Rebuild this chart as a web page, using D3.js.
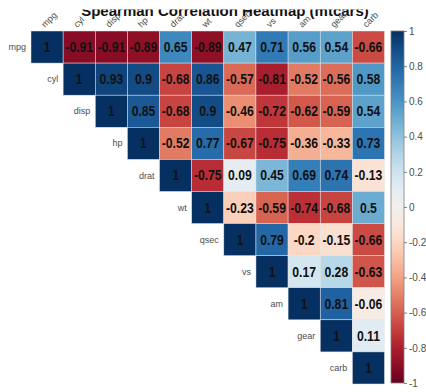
<!DOCTYPE html>
<html>
<head>
<meta charset="utf-8">
<script src="https://cdn.jsdelivr.net/npm/d3@7"></script>
<style>
  html, body { margin: 0; padding: 0; background: #fff; }
  svg { display: block; font-family: "Liberation Sans", Arial, sans-serif; }
</style>
</head>
<body>
<svg id="chart" width="426" height="392"></svg>
<script>
// Variables of the mtcars data set, in display order
const variables = ["mpg", "cyl", "disp", "hp", "drat", "wt", "qsec", "vs", "am", "gear", "carb"];

// Upper triangle of the Spearman correlation matrix, one row per variable,
// starting at the diagonal
const rowMpg  = [1, -0.91, -0.91, -0.89, 0.65, -0.89, 0.47, 0.71, 0.56, 0.54, -0.66];
const rowCyl  = [1, 0.93, 0.9, -0.68, 0.86, -0.57, -0.81, -0.52, -0.56, 0.58];
const rowDisp = [1, 0.85, -0.68, 0.9, -0.46, -0.72, -0.62, -0.59, 0.54];
const rowHp   = [1, -0.52, 0.77, -0.67, -0.75, -0.36, -0.33, 0.73];
const rowDrat = [1, -0.75, 0.09, 0.45, 0.69, 0.74, -0.13];
const rowWt   = [1, -0.23, -0.59, -0.74, -0.68, 0.5];
const rowQsec = [1, 0.79, -0.2, -0.15, -0.66];
const rowVs   = [1, 0.17, 0.28, -0.63];
const rowAm   = [1, 0.81, -0.06];
const rowGear = [1, 0.11];
const rowCarb = [1];
const upperRows = [rowMpg, rowCyl, rowDisp, rowHp, rowDrat, rowWt, rowQsec, rowVs, rowAm, rowGear, rowCarb];

// Colour bar tick values
const legendTicks = [1, 0.8, 0.6, 0.4, 0.2, 0, -0.2, -0.4, -0.6, -0.8, -1];

const titleText = "Spearman Correlation Heatmap (mtcars)";

// Flatten into cells
const cells = [];
upperRows.forEach((row, i) => {
  row.forEach((v, k) => {
    cells.push({ row: variables[i], col: variables[i + k], value: v });
  });
});

const svg = d3.select("#chart");

const x = d3.scaleBand().domain(variables).range([31, 384.5]).padding(0);
const y = d3.scaleBand().domain(variables).range([31, 384]).padding(0);
const color = d3.scaleSequential(d3.interpolateRdBu).domain([-1, 1]);

// Title (top edge trimmed by the clip)
const defs = svg.append("defs");
defs.append("clipPath").attr("id", "titleClip")
  .append("rect").attr("x", 0).attr("y", 9.5).attr("width", 426).attr("height", 30);

svg.append("text")
  .attr("clip-path", "url(#titleClip)")
  .attr("x", 225).attr("y", 16)
  .attr("text-anchor", "middle")
  .attr("font-size", 15).attr("font-weight", "bold")
  .attr("fill", "#111")
  .text(titleText);

// Tiles
svg.append("g").selectAll("rect")
  .data(cells).join("rect")
  .attr("x", d => x(d.col))
  .attr("y", d => y(d.row))
  .attr("width", x.bandwidth())
  .attr("height", y.bandwidth())
  .attr("fill", d => color(d.value))
  .attr("stroke", "#e6e6e6")
  .attr("stroke-width", 0.5);

// Cell values (slightly condensed, tall bold digits)
svg.append("g").selectAll("text")
  .data(cells).join("text")
  .attr("transform", d =>
    `translate(${x(d.col) + x.bandwidth() / 2},${y(d.row) + y.bandwidth() / 2}) scale(0.87,1)`)
  .attr("dy", "0.36em")
  .attr("text-anchor", "middle")
  .attr("font-size", 14).attr("font-weight", "bold")
  .attr("fill", "#111")
  .text(d => String(d.value));

// Column labels, rotated, above each column
svg.append("g").selectAll("text")
  .data(variables).join("text")
  .attr("transform", d => `translate(${x(d) + x.bandwidth() / 2 - 2},28) rotate(-45)`)
  .attr("font-size", 9)
  .attr("fill", "#4d4d4d")
  .text(d => d);

// Row labels, just left of the diagonal tile
svg.append("g").selectAll("text")
  .data(variables).join("text")
  .attr("x", d => x(d) - 5)
  .attr("y", d => y(d) + y.bandwidth() / 2)
  .attr("dy", "0.35em")
  .attr("text-anchor", "end")
  .attr("font-size", 9)
  .attr("fill", "#4d4d4d")
  .text(d => d);

// Colour bar
const barX = 391, barW = 13;
const legendY = d3.scaleLinear().domain([1, -1]).range([31, 383]);

const grad = defs.append("linearGradient").attr("id", "barGrad")
  .attr("x1", 0).attr("y1", 0).attr("x2", 0).attr("y2", 1);
d3.range(0, 21).forEach(i => {
  const v = 1 - i / 10;
  grad.append("stop")
    .attr("offset", `${(i / 20) * 100}%`)
    .attr("stop-color", color(v));
});

svg.append("rect")
  .attr("x", barX).attr("y", legendY(1))
  .attr("width", barW).attr("height", legendY(-1) - legendY(1))
  .attr("fill", "url(#barGrad)")
  .attr("stroke", "#7f7f7f").attr("stroke-width", 0.8);

const legendAxis = d3.axisRight(legendY)
  .tickValues(legendTicks)
  .tickSize(3)
  .tickPadding(2)
  .tickFormat(d => String(d));

const la = svg.append("g")
  .attr("transform", `translate(${barX + barW},0)`)
  .call(legendAxis);
la.select(".domain").remove();
la.selectAll(".tick line").attr("stroke", "#333").attr("stroke-width", 0.6);
la.selectAll(".tick text")
  .attr("font-size", 10)
  .attr("font-family", "Liberation Sans, Arial, sans-serif")
  .attr("fill", "#4d4d4d");
</script>
</body>
</html>
